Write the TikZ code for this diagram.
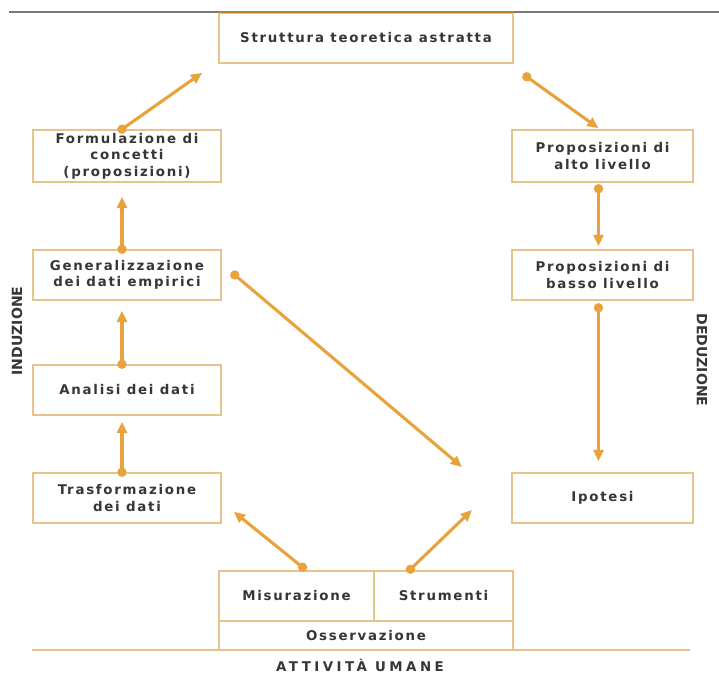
\documentclass[tikz,border=0pt]{standalone}
\usepackage{fontspec}
\setmainfont{DejaVu Sans}
\newfontfamily\spacedfont{DejaVu Sans}[LetterSpace=13]
\newfontfamily\widefont{DejaVu Sans}[LetterSpace=26]
\usetikzlibrary{arrows.meta,calc}
\definecolor{FlowOrange}{HTML}{E8A33D}
\definecolor{BoxTan}{HTML}{E6C48C}
\definecolor{EdgeBrown}{HTML}{B8802A}
\definecolor{TextGray}{HTML}{363636}
\definecolor{RuleGray}{HTML}{7A7A7A}

\begin{document}
\begin{tikzpicture}[
    x=0.025cm, y=-0.025cm,
    font=\spacedfont\bfseries\fontsize{9.5pt}{11.8pt}\selectfont,
    stepbox/.style={draw=BoxTan, fill=white, line width=1.1pt, align=center, text=TextGray, inner sep=2pt},
    leftbox/.style={stepbox, minimum width=4.7cm, minimum height=1.25cm},
    rightbox/.style={stepbox, minimum width=4.525cm, minimum height=1.25cm},
    flow/.style={{Circle[length=6.5pt]}-{Triangle[length=8pt,width=7pt]}, shorten <=-3.25pt, line width=2.2pt, color=FlowOrange},
    sidelabel/.style={font=\fontspec{DejaVu Sans}\bfseries\fontsize{10pt}{12pt}\selectfont, text=TextGray}
]
  \useasboundingbox (0,0) rectangle (719,675);

  % -------------------------------------------------------------
  % RIGHE DI BASE
  % -------------------------------------------------------------
  \draw[RuleGray, line width=1.4pt] (9,12) -- (719,12);
  \draw[BoxTan, line width=2pt] (32,650) -- (690,650);

  % -------------------------------------------------------------
  % STRUTTURA TEORETICA (in alto)
  % -------------------------------------------------------------
  \node[stepbox, minimum width=7.35cm, minimum height=1.25cm] (teoria) at (366,38) {Struttura teoretica astratta};
  \draw[EdgeBrown, line width=1.6pt] (teoria.north west) -- (teoria.north east);

  % -------------------------------------------------------------
  % COLONNA SINISTRA: INDUZIONE
  % -------------------------------------------------------------
  \node[leftbox, minimum height=1.3cm] (concetti) at (127,156) {Formulazione di\\concetti\\(proposizioni)};
  \node[leftbox] (generaliz) at (127,275) {Generalizzazione\\dei dati empirici};
  \node[leftbox] (analisi) at (127,390) {Analisi dei dati};
  \node[leftbox] (trasform) at (127,498) {Trasformazione\\dei dati};

  % -------------------------------------------------------------
  % COLONNA DESTRA: DEDUZIONE
  % -------------------------------------------------------------
  \node[rightbox, minimum height=1.3cm] (propalto) at (602.5,156) {Proposizioni di\\alto livello};
  \node[rightbox] (propbasso) at (602.5,275) {Proposizioni di\\basso livello};
  \node[rightbox] (ipotesi) at (602.5,498) {Ipotesi};

  % -------------------------------------------------------------
  % OSSERVAZIONE (in basso)
  % -------------------------------------------------------------
  \node[stepbox, minimum width=3.875cm, minimum height=1.25cm] (misura) at (296.5,596) {Misurazione};
  \node[stepbox, minimum width=3.475cm, minimum height=1.25cm] (strumenti) at (443.5,596) {Strumenti};
  \node[stepbox, minimum width=7.35cm, minimum height=0.725cm] (osserva) at (366,635.5) {Osservazione};

  \node[text=TextGray, inner sep=0pt, font=\widefont\bfseries\fontsize{9.5pt}{11pt}\selectfont] (attivita) at (360,665) {ATTIVITÀ UMANE};
  \node[sidelabel, rotate=90] (induz) at (17,331) {INDUZIONE};
  \node[sidelabel, rotate=-90] (deduz) at (702,360) {DEDUZIONE};

  % estremi liberi al centro
  \coordinate (vuoto1) at (462,467);
  \coordinate (vuoto2) at (472,510);

  % -------------------------------------------------------------
  % FRECCE
  % -------------------------------------------------------------
  \draw[flow] ($(concetti.north)+(-5,0)$) -- ($(teoria.south west)+(-16,9)$);
  \draw[flow] ($(teoria.south east)+(13,13)$) -- ($(propalto.north)+(-4,-1)$);

  \draw[flow] ($(generaliz.north)+(-5,0)$) -- ($(concetti.south)+(-5,14)$);
  \draw[flow] ($(analisi.north)+(-5,0)$) -- ($(generaliz.south)+(-5,10)$);
  \draw[flow] ($(trasform.north)+(-5,0)$) -- ($(analisi.south)+(-5,6)$);

  \draw[flow] ($(propalto.south)+(-4,6)$) -- ($(propbasso.north)+(-4,-3)$);
  \draw[flow] ($(propbasso.south)+(-4,7)$) -- ($(ipotesi.north)+(-4,-11)$);

  \draw[flow] ($(generaliz.east)+(13,0)$) -- (vuoto1);
  \draw[flow] ($(misura.north)+(6,-3)$) -- ($(trasform.south east)+(12,-12)$);
  \draw[flow] ($(strumenti.north)+(-33,-1)$) -- (vuoto2);

\end{tikzpicture}
\end{document}
